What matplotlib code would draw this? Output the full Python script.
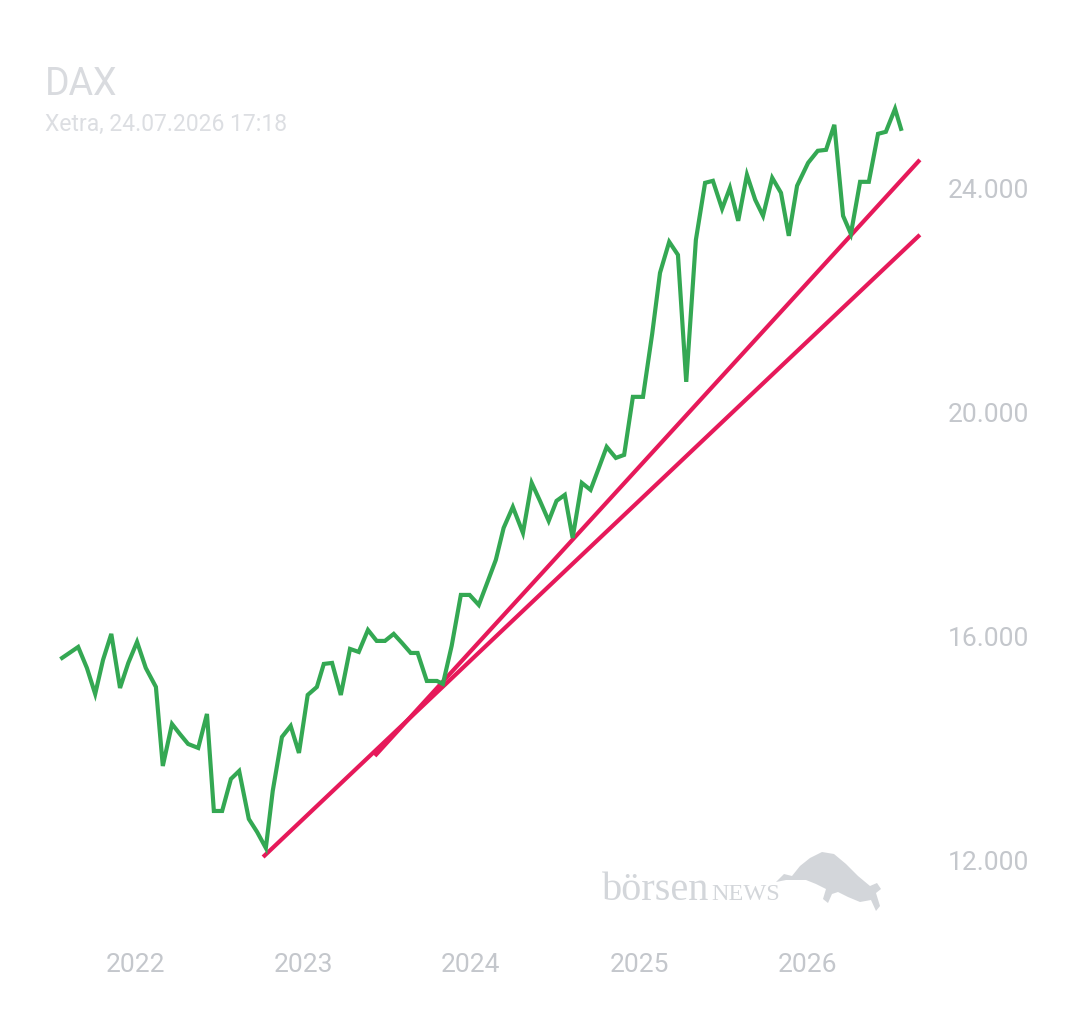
#
# DAX chart with two trend lines
#

import pandas as pd
import numpy as np
from matplotlib import pyplot as plt
import matplotlib.dates as mdates
from matplotlib.patches import Polygon

GREEN = '#34a853'
PINK = '#e6195a'
GREY = '#c4c7cc'
LOGO = '#d3d6da'

dates = ['2021-07-26', '2021-08-30', '2021-09-18', '2021-10-06', '2021-10-23',
         '2021-11-10', '2021-11-29', '2021-12-17', '2022-01-05', '2022-01-24',
         '2022-02-15', '2022-03-02', '2022-03-22', '2022-04-08', '2022-04-26',
         '2022-05-18', '2022-06-06', '2022-06-21', '2022-07-09', '2022-07-28',
         '2022-08-15', '2022-09-05', '2022-09-23', '2022-10-12', '2022-10-27',
         '2022-11-16', '2022-12-05', '2022-12-23', '2023-01-11', '2023-01-31',
         '2023-02-15', '2023-03-05', '2023-03-24', '2023-04-13', '2023-05-02',
         '2023-05-22', '2023-06-10', '2023-06-28', '2023-07-17', '2023-08-04',
         '2023-08-23', '2023-09-07', '2023-09-27', '2023-10-19', '2023-11-01',
         '2023-11-20', '2023-12-10', '2023-12-29', '2024-01-18', '2024-02-06',
         '2024-02-24', '2024-03-12', '2024-04-01', '2024-04-23', '2024-05-12',
         '2024-05-30', '2024-06-18', '2024-07-05', '2024-07-23', '2024-08-09',
         '2024-08-29', '2024-09-17', '2024-10-05', '2024-10-22', '2024-11-11',
         '2024-11-29', '2024-12-18', '2025-01-09', '2025-01-29', '2025-02-15',
         '2025-03-07', '2025-03-26', '2025-04-13', '2025-05-04', '2025-05-24',
         '2025-06-10', '2025-06-30', '2025-07-17', '2025-08-04', '2025-08-23',
         '2025-09-10', '2025-09-27', '2025-10-17', '2025-11-05', '2025-11-22',
         '2025-12-10', '2026-01-03', '2026-01-24', '2026-02-11', '2026-03-01',
         '2026-03-20', '2026-04-06', '2026-04-26', '2026-05-15', '2026-06-04',
         '2026-06-21', '2026-07-11', '2026-07-24']

closes = [15625, 15821, 15446, 14982, 15589, 16054, 15089, 15536, 15911, 15446,
          15107, 13696, 14446, 14268, 14089, 14018, 14625, 12893, 12893, 13464,
          13607, 12750, 12518, 12232, 13250, 14214, 14411, 13929, 14964, 15107,
          15518, 15536, 14964, 15786, 15732, 16125, 15929, 15929, 16054, 15893,
          15714, 15714, 15214, 15214, 15161, 15839, 16750, 16750, 16571, 16982,
          17375, 17946, 18321, 17857, 18750, 18429, 18071, 18429, 18536, 17768,
          18750, 18625, 19018, 19393, 19196, 19250, 20286, 20286, 21411, 22500,
          23054, 22821, 20554, 23089, 24107, 24143, 23643, 24018, 23429, 24250,
          23804, 23518, 24196, 23929, 23161, 24054, 24464, 24679, 24696, 25143,
          23518, 23196, 24125, 24125, 24982, 25018, 25429, 25071]

# trend lines: start/end date and level
trend_steep_dates = ['2023-06-06', '2026-09-03']
trend_steep_vals = [13875, 24518]
trend_flat_dates = ['2022-10-06', '2026-09-03']
trend_flat_vals = [12071, 23179]

year_ticks = ['2022', '2023', '2024', '2025', '2026']
y_ticks = [12000, 16000, 20000, 24000]
y_labels = ['12.000', '16.000', '20.000', '24.000']

plt.rcParams['font.family'] = ['Roboto', 'DejaVu Sans']

fig = plt.figure(figsize=(10.8, 10.13), dpi=100)
ax = fig.add_axes([40/1080, 1 - 917/1013, 890/1080, 857/1013])

dts = pd.to_datetime(dates)
ax.plot(dts, closes, color=GREEN, lw=3.0, solid_joinstyle='miter', zorder=3)
ax.plot(pd.to_datetime(trend_flat_dates), trend_flat_vals, color=PINK, lw=3.0,
        solid_capstyle='butt', zorder=2)
ax.plot(pd.to_datetime(trend_steep_dates), trend_steep_vals, color=PINK, lw=3.0,
        solid_capstyle='butt', zorder=2)

ax.set_xlim(pd.Timestamp('2021-06-08'), pd.Timestamp('2026-09-25'))
ax.set_ylim(11000, 26300)

for s in ax.spines.values():
    s.set_visible(False)

ax.set_xticks(pd.to_datetime([y + '-01-01' for y in year_ticks]))
ax.set_xticklabels(year_ticks)
ax.yaxis.tick_right()
ax.set_yticks(y_ticks)
ax.set_yticklabels(y_labels)
ax.tick_params(axis='x', length=0, pad=26, labelsize=19, labelcolor=GREY)
ax.tick_params(axis='y', length=0, pad=13, labelsize=19, labelcolor=GREY)

fig.text(45/1080, 1 - 95/1013, 'DAX', fontsize=27, color='#d9dbdf')
fig.text(45/1080, 1 - 131/1013, 'Xetra, 24.07.2026 17:18', fontsize=16.5, color='#dcdee2')

# logo
fig.text(602/1080, 1 - 900/1013, 'börsen', fontsize=29, color=LOGO,
         family=['Liberation Serif', 'DejaVu Serif'])
fig.text(711/1080, 1 - 900/1013, 'NEWS', fontsize=17.5, color=LOGO,
         family=['Liberation Serif', 'DejaVu Serif'])
bull = [(776, 882), (784, 874), (792, 876), (800, 866), (810, 858), (822, 852),
        (834, 854), (846, 864), (858, 876), (870, 886), (877, 883), (881, 889),
        (876, 893), (880, 906), (876, 911), (871, 900), (860, 902), (848, 897),
        (838, 892), (832, 894), (828, 903), (823, 899), (826, 889), (816, 884),
        (806, 880), (796, 880), (786, 880)]
bull = [(px/1080, 1 - py/1013) for px, py in bull]
fig.patches.append(Polygon(bull, closed=True, transform=fig.transFigure,
                           facecolor=LOGO, edgecolor='none', zorder=0))

plt.savefig('out.png', dpi=100, facecolor='white')
